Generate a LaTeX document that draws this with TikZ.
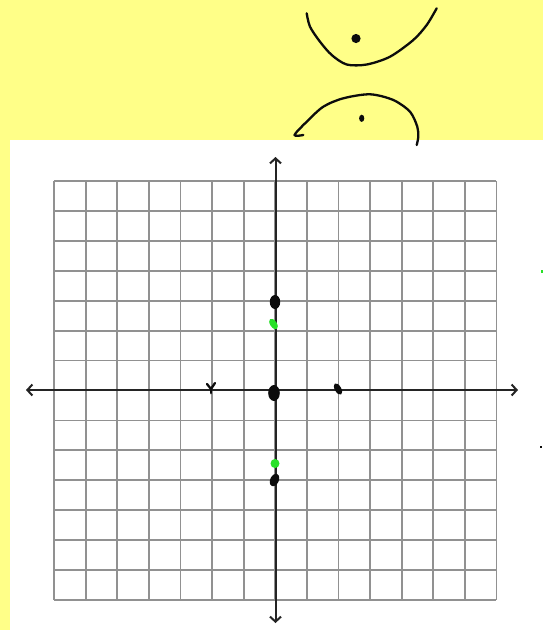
\documentclass[tikz,border=0pt]{standalone}
\usepackage{xcolor}
\usepackage{tikz}
\usetikzlibrary{arrows.meta,calc}
\definecolor{noteyellow}{RGB}{255,255,136}
\definecolor{gridgray} {RGB}{145,145,145}
\definecolor{penblack} {RGB}{12,12,12}
\definecolor{pengreen} {RGB}{40,225,40}
\tikzset{
  gridline/.style ={draw=gridgray, line width=1.8pt},
  axisline/.style ={draw=penblack!90, line width=2pt,
                    {Straight Barb[length=5pt,width=11pt,line width=2pt]}-{Straight Barb[length=5pt,width=11pt,line width=2pt]}},
  penstroke/.style={draw=penblack, line width=2.3pt, line cap=round, line join=round},
  blackblob/.style={fill=penblack},
  greenblob/.style={fill=pengreen},
}
\begin{document}
\begin{tikzpicture}[x=1pt,y=-1pt]
  \useasboundingbox (0,0) rectangle (543,630);
  \fill[noteyellow] (0,0) rectangle (543,630);
  \fill[white] (10,140) rectangle (543,630);

  % grid 14 x 14
  \foreach \i in {0,...,14}{
    \draw[gridline] ({54+31.6*\i},181) -- ({54+31.6*\i},600);
    \draw[gridline] (54,{181+29.93*\i}) -- (496.4,{181+29.93*\i});
  }
  \coordinate (xl) at (26,390);
  \coordinate (xr) at (518,390);
  \coordinate (yt) at (275.5,157);
  \coordinate (yb) at (275.5,623);
  \draw[axisline] (xl) -- (xr);
  \draw[axisline] (yb) -- (yt);

  % hand drawn branches
  \draw[penstroke] plot[smooth] coordinates {(306.7,13.3) (310,26.7) (320,41.7)
    (331.7,55) (346.7,64.5) (366.7,64.5) (390,56.7) (413.3,40) (426.7,25) (436.7,8.3)};
  \draw[penstroke] plot[smooth] coordinates {(303.3,135) (294.5,135) (306.7,121.7)
    (323.3,106.7) (343.3,98.3) (370,94.3) (393.3,100) (410,111.7) (417.3,126.7)
    (418.3,136.7) (416.7,145)};
  \fill[blackblob] (356,38.5) ellipse[x radius=4.6pt,y radius=4.6pt];
  \fill[blackblob] (361.7,118.3) ellipse[x radius=2.6pt,y radius=3.6pt];

  % marks on the axes
  \coordinate (v1) at (275,302);
  \coordinate (f1) at (273.5,324);
  \coordinate (o)  at (274,393);
  \coordinate (f2) at (275,463.5);
  \coordinate (v2) at (274.5,480);
  \coordinate (a1) at (338,389);
  \coordinate (a2) at (211,389);
  \fill[blackblob] (v1) ellipse[x radius=5.2pt,y radius=7pt];
  \fill[greenblob,rotate around={35:(f1)}] (f1) ellipse[x radius=3.3pt,y radius=6pt];
  \fill[blackblob] (o) ellipse[x radius=5.8pt,y radius=8pt];
  \fill[greenblob] (f2) ellipse[x radius=4.5pt,y radius=4.6pt];
  \fill[blackblob,rotate around={-25:(v2)}] (v2) ellipse[x radius=4.3pt,y radius=6.5pt];
  \fill[blackblob,rotate around={30:(a1)}] (a1) ellipse[x radius=3.2pt,y radius=6.3pt];
  \draw[penstroke,line width=2.3pt] ($(a2)+(-4,-5)$) -- (a2) -- ($(a2)+(4,-6)$);
  \draw[penstroke,line width=2.8pt] (a2) -- ($(a2)+(0,4)$);

  % stray marks at the right edge
  \fill[pengreen] (541,269.5) rectangle (543,273);
  \fill[penblack] (540,446) rectangle (542,448);
\end{tikzpicture}
\end{document}
